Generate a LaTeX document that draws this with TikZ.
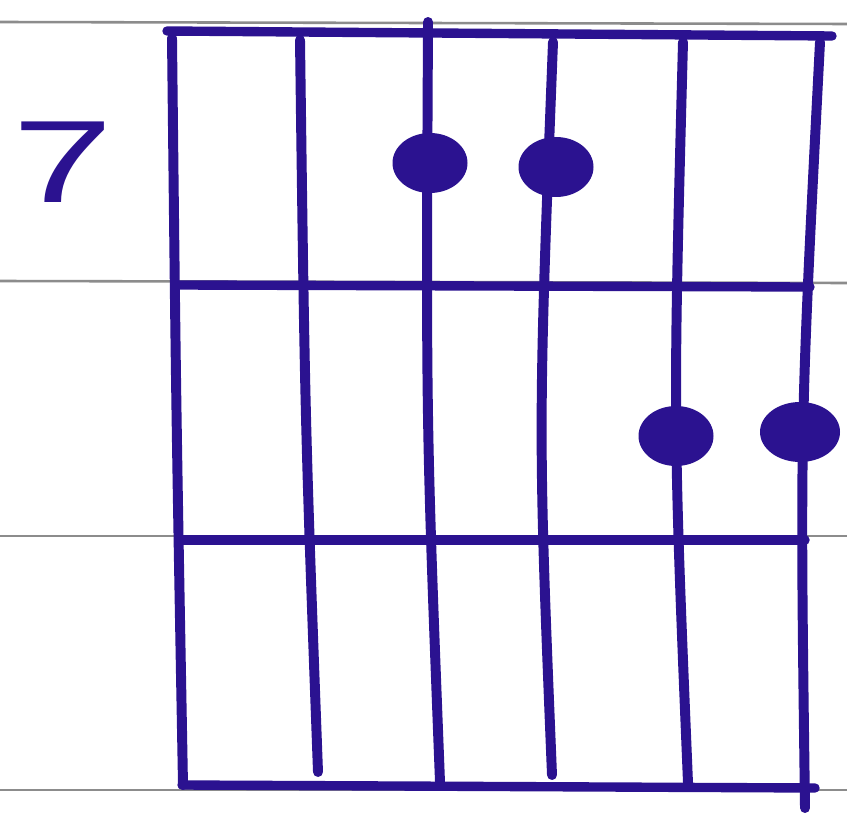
\documentclass[tikz,border=0pt]{standalone}
\usepackage{fontspec}
\setmainfont{Liberation Sans}
\usetikzlibrary{shapes.geometric}
\definecolor{ink}{HTML}{2B1290}
\definecolor{paper}{HTML}{8C8C8C}
\tikzset{
  ruled/.style={draw=paper, line width=2.2pt},
  fret/.style={draw=ink, line width=8pt, line cap=round},
  stringline/.style={draw=ink, line width=8.5pt, line cap=round},
  fingerdot/.style={ellipse, fill=ink, minimum width=2.25cm, minimum height=1.8cm, inner sep=0pt},
}
\begin{document}
\begin{tikzpicture}[x=0.03cm, y=-0.03cm]
\useasboundingbox (0,0) rectangle (847,822);
\fill[white] (0,0) rectangle (847,822);
% ruled paper lines
\coordinate (p1l) at (0,22);  \coordinate (p1r) at (847,24);
\coordinate (p2l) at (0,281); \coordinate (p2r) at (847,283);
\coordinate (p3l) at (0,536); \coordinate (p3r) at (847,536);
\coordinate (p4l) at (0,790); \coordinate (p4r) at (847,790);
\draw[ruled] (p1l) -- (p1r);
\draw[ruled] (p2l) -- (p2r);
\draw[ruled] (p3l) -- (p3r);
\draw[ruled] (p4l) -- (p4r);
% fret number
\node[text=ink, font=\fontsize{100}{100}\selectfont, inner sep=0pt] (fretnum) at (63,162) {\scalebox{1.55}[1]{7}};
% frets
\coordinate (f0l) at (167,31); \coordinate (f0r) at (832,36);
\coordinate (f1l) at (178,285); \coordinate (f1r) at (810,287);
\coordinate (f2l) at (183,540); \coordinate (f2r) at (805,540);
\coordinate (f3l) at (182,785); \coordinate (f3r) at (815,788);
\draw[fret] (f0l) -- (f0r);
\draw[fret] (f1l) -- (f1r);
\draw[fret] (f2l) -- (f2r);
\draw[fret] (f3l) -- (f3r);
% strings
\coordinate (s1t) at (172,38); \coordinate (s1m) at (176,400); \coordinate (s1b) at (183,785);
\coordinate (s2t) at (300,40); \coordinate (s2m) at (305,420); \coordinate (s2b) at (318,772);
\coordinate (s3t) at (428,22); \coordinate (s3m) at (426,420); \coordinate (s3b) at (440,782);
\coordinate (s4t) at (553,42); \coordinate (s4m) at (538,430); \coordinate (s4b) at (552,775);
\coordinate (s5t) at (683,42); \coordinate (s5m) at (673,420); \coordinate (s5b) at (688,783);
\coordinate (s6t) at (820,42); \coordinate (s6m) at (800,430); \coordinate (s6b) at (805,808);
\draw[stringline] (s1t) .. controls (s1m) .. (s1b);
\draw[stringline] (s2t) .. controls (s2m) .. (s2b);
\draw[stringline] (s3t) .. controls (s3m) .. (s3b);
\draw[stringline] (s4t) .. controls (s4m) .. (s4b);
\draw[stringline] (s5t) .. controls (s5m) .. (s5b);
\draw[stringline] (s6t) .. controls (s6m) .. (s6b);
% finger dots
\node[fingerdot] (d3) at (430,163) {};
\node[fingerdot] (d4) at (556,167) {};
\node[fingerdot] (d5) at (676,436) {};
\node[fingerdot, minimum width=2.4cm] (d6) at (800,432) {};
\end{tikzpicture}
\end{document}
